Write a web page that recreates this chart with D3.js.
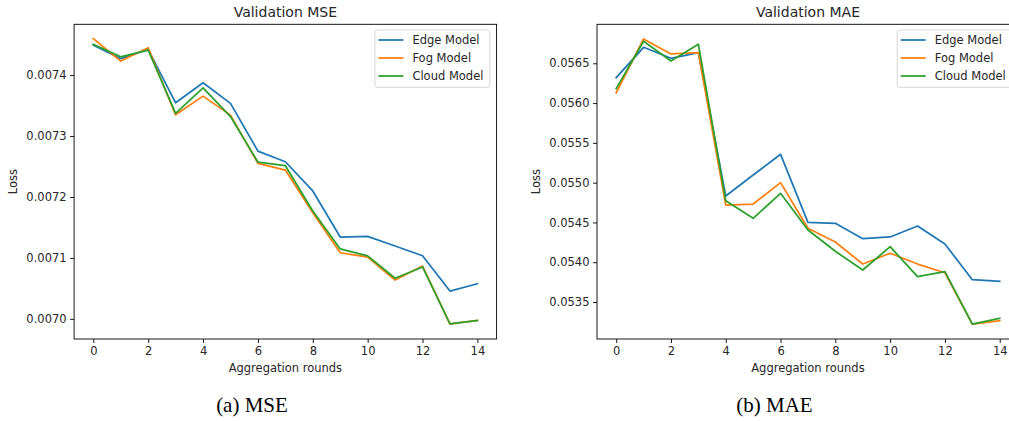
<!DOCTYPE html>
<html>
<head>
<meta charset="utf-8">
<script src="https://cdn.jsdelivr.net/npm/d3@7"></script>
<style>
  html, body { margin: 0; padding: 0; background: #fff; overflow: hidden; }
  svg { display: block; }
  text { font-family: "DejaVu Sans", sans-serif; fill: #262626; }
  text.caption { font-family: "Liberation Serif", "Times New Roman", serif; fill: #000; }
</style>
</head>
<body>
<svg id="chart" width="1009" height="421"></svg>
<script>
// ---- data ----
const rounds = [0,1,2,3,4,5,6,7,8,9,10,11,12,13,14];
const seriesNames = ["Edge Model", "Fog Model", "Cloud Model"];
const seriesColors = ["#1f77b4", "#ff7f0e", "#2ca02c"];

const mseEdge  = [0.007449, 0.007427, 0.007442, 0.0073545, 0.0073874, 0.0073535, 0.0072752, 0.0072578, 0.0072099, 0.0071343, 0.0071354, 0.0071195, 0.0071036, 0.0070457, 0.0070577];
const mseFog   = [0.0074596, 0.007423, 0.0074448, 0.0073348, 0.0073655, 0.0073343, 0.0072552, 0.0072442, 0.0071742, 0.0071085, 0.0071015, 0.0070637, 0.0070867, 0.0069918, 0.0069972];
const mseCloud = [0.0074504, 0.00743, 0.007441, 0.0073371, 0.0073791, 0.007332, 0.0072573, 0.0072513, 0.007177, 0.0071148, 0.0071033, 0.0070667, 0.0070852, 0.0069918, 0.0069975];

const maeEdge  = [0.056319, 0.056701, 0.056563, 0.056633, 0.054832, 0.055096, 0.055356, 0.054501, 0.054489, 0.054295, 0.054317, 0.054455, 0.054229, 0.05378, 0.05376];
const maeFog   = [0.05613, 0.056805, 0.056617, 0.056633, 0.054719, 0.054731, 0.0550, 0.054426, 0.054254, 0.053977, 0.054112, 0.053977, 0.053868, 0.053223, 0.053265];
const maeCloud = [0.056181, 0.056777, 0.056529, 0.056739, 0.054773, 0.054552, 0.054866, 0.054405, 0.054137, 0.053902, 0.054195, 0.053818, 0.053881, 0.053223, 0.053294];

const xTicks = [0, 2, 4, 6, 8, 10, 12, 14];
const mseTicks = [0.0070, 0.0071, 0.0072, 0.0073, 0.0074];
const maeTicks = [0.0535, 0.0540, 0.0545, 0.0550, 0.0555, 0.0560, 0.0565];
const mseDomain = [0.006967, 0.0074833];
const maeDomain = [0.053035, 0.05699];
const xDomain = [-0.7, 14.7];

const panels = [
  { title: "Validation MSE", caption: "(a) MSE", series: [mseEdge, mseFog, mseCloud],
    yTicks: mseTicks, yDomain: mseDomain, left: 74.1, right: 496.6, lossX: 13, capX: 252 },
  { title: "Validation MAE", caption: "(b) MAE", series: [maeEdge, maeFog, maeCloud],
    yTicks: maeTicks, yDomain: maeDomain, left: 597, right: 1018.9, lossX: 536, capX: 774.5 }
];

const plotTop = 24.3, plotBottom = 339;
const svg = d3.select("#chart");

panels.forEach(p => {
  const x = d3.scaleLinear().domain(xDomain).range([p.left, p.right]);
  const y = d3.scaleLinear().domain(p.yDomain).range([plotBottom, plotTop]);
  const g = svg.append("g");

  // lines
  const line = d3.line().x((d, i) => x(rounds[i])).y(d => y(d));
  p.series.forEach((s, k) => {
    g.append("path").datum(s)
      .attr("fill", "none")
      .attr("stroke", seriesColors[k])
      .attr("stroke-width", 1.75)
      .attr("stroke-linejoin", "round")
      .attr("stroke-linecap", "square")
      .attr("d", line);
  });

  // axes
  const xAxis = g.append("g").attr("transform", `translate(0,${plotBottom})`)
    .call(d3.axisBottom(x).tickValues(xTicks).tickSize(4).tickPadding(3.5).tickFormat(d3.format("d")));
  const yAxis = g.append("g").attr("transform", `translate(${p.left},0)`)
    .call(d3.axisLeft(y).tickValues(p.yTicks).tickSize(4).tickPadding(3.5).tickFormat(d3.format(".4f")));
  [xAxis, yAxis].forEach(a => {
    a.select(".domain").remove();
    a.selectAll(".tick line").attr("stroke", "#000").attr("stroke-width", 0.9);
    a.selectAll(".tick text").attr("font-size", "11.5px").attr("fill", "#262626")
      .attr("font-family", "DejaVu Sans, sans-serif");
  });

  // frame
  g.append("rect")
    .attr("x", p.left).attr("y", plotTop)
    .attr("width", p.right - p.left).attr("height", plotBottom - plotTop)
    .attr("fill", "none").attr("stroke", "#000").attr("stroke-width", 0.9);

  const cx = (p.left + p.right) / 2;
  // title
  g.append("text").attr("x", cx).attr("y", 17.3).attr("text-anchor", "middle")
    .attr("font-size", "14px").text(p.title);
  // x label
  g.append("text").attr("x", cx).attr("y", 372.3).attr("text-anchor", "middle")
    .attr("font-size", "11.5px").text("Aggregation rounds");
  // y label
  g.append("text")
    .attr("transform", `translate(${p.lossX + 4},${(plotTop + plotBottom) / 2}) rotate(-90)`)
    .attr("text-anchor", "middle")
    .attr("font-size", "11.5px").text("Loss");
  // caption
  g.append("text").attr("class", "caption")
    .attr("x", p.capX).attr("y", 412.3).attr("text-anchor", "middle")
    .attr("font-size", "21px").text(p.caption);

  // legend
  const lx = p.right - 6.7 - 115, ly = 30;
  const leg = g.append("g").attr("transform", `translate(${lx},${ly})`);
  leg.append("rect").attr("width", 115).attr("height", 57.3).attr("rx", 2.5)
    .attr("fill", "#fff").attr("fill-opacity", 0.8)
    .attr("stroke", "#d0d0d0").attr("stroke-width", 0.9);
  seriesNames.forEach((name, k) => {
    const yy = 10 + k * 18;
    leg.append("line").attr("x1", 3.5).attr("x2", 28.5).attr("y1", yy).attr("y2", yy)
      .attr("stroke", seriesColors[k]).attr("stroke-width", 1.75);
    leg.append("text").attr("x", 37.5).attr("y", yy + 4.2)
      .attr("font-size", "11.5px").text(name);
  });
});
</script>
</body>
</html>
